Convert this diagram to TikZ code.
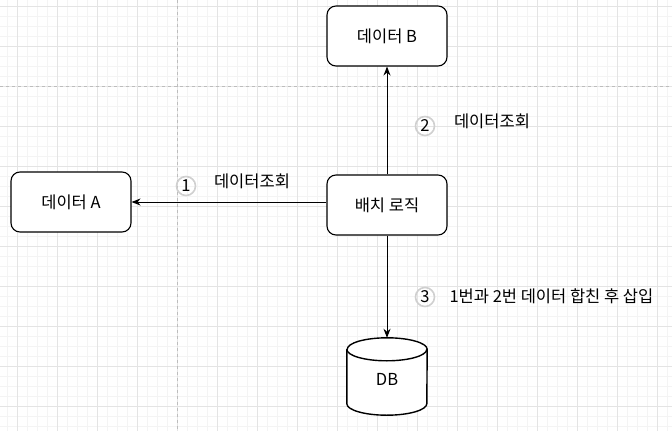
\documentclass[tikz,border=0pt]{standalone}
\usepackage{fontspec}
\setmainfont{Noto Sans CJK KR}
\usetikzlibrary{positioning, arrows.meta, calc}
\definecolor{gridminor}{HTML}{F4F4F4}
\definecolor{gridmajor}{HTML}{E4E4E4}
\definecolor{pagebreak}{HTML}{BDBDBD}
\definecolor{numring}{HTML}{D0D0D0}

\begin{document}
\begin{tikzpicture}[x=1pt, y=-1pt,
    font=\fontsize{16.5}{19}\selectfont,
    box/.style={draw, rounded corners=9pt, line width=1.1pt,
                minimum width=120pt, minimum height=60pt, inner sep=0pt},
    numcirc/.style={circle, draw=numring, line width=1.6pt,
                    minimum size=19pt, inner sep=0pt},
    flow/.style={-{Stealth[length=9pt,width=7pt]}, line width=1pt}]
    \useasboundingbox (0,0) rectangle (672,431);
    % grid
    \foreach \x in {7,17,...,667}
      \draw[gridminor, line width=0.8pt] (\x,0) -- (\x,431);
    \foreach \y in {6,16,...,426}
      \draw[gridminor, line width=0.8pt] (0,\y) -- (672,\y);
    \foreach \x in {17,57,...,657}
      \draw[gridmajor, line width=0.8pt] (\x,0) -- (\x,431);
    \foreach \y in {6,46,...,406}
      \draw[gridmajor, line width=0.8pt] (0,\y) -- (672,\y);
    \draw[pagebreak, dashed, line width=0.8pt] (177,0) -- (177,431);
    \draw[pagebreak, dashed, line width=0.8pt] (0,86) -- (672,86);

    \node[box, fill=white] (dataB) at (387,36) {데이터 B};
    \node[box, fill=white] (batch) at (387,205) {배치 로직};
    \node[box, fill=white] (dataA) at (71,202) {데이터 A};
    \node[minimum width=80pt, minimum height=77pt, inner sep=0pt] (db) at (387,376.5) {};
    % DB cylinder
    \draw[line width=1.4pt, fill=white]
      ($(db.north west)+(0,11.5)$) -- ($(db.south west)+(0,-11.5)$)
      arc[start angle=180, end angle=360, x radius=40pt, y radius=11.5pt]
      -- ($(db.north east)+(0,11.5)$)
      arc[start angle=0, end angle=180, x radius=40pt, y radius=11.5pt];
    \draw[line width=1.4pt] ($(db.north west)+(0,11.5)$)
      arc[start angle=180, end angle=360, x radius=40pt, y radius=11.5pt];
    \node at (387,379) {DB};

    \draw[flow] (batch.west |- dataA.east) -- (dataA.east);
    \draw[flow] (batch.north) -- (dataB.south);
    \draw[flow] (batch.south) -- (db.north);

    \node[numcirc] (num1) at (186,186) {1};
    \node (lbl1) at (252,181) {데이터조회};
    \node[numcirc] (num2) at (425,126) {2};
    \node (lbl2) at (492,121) {데이터조회};
    \node[numcirc] (num3) at (425,297) {3};
    \node[anchor=west] (lbl3) at (446,296) {1번과 2번 데이터 합친 후 삽입};
\end{tikzpicture}
\end{document}
